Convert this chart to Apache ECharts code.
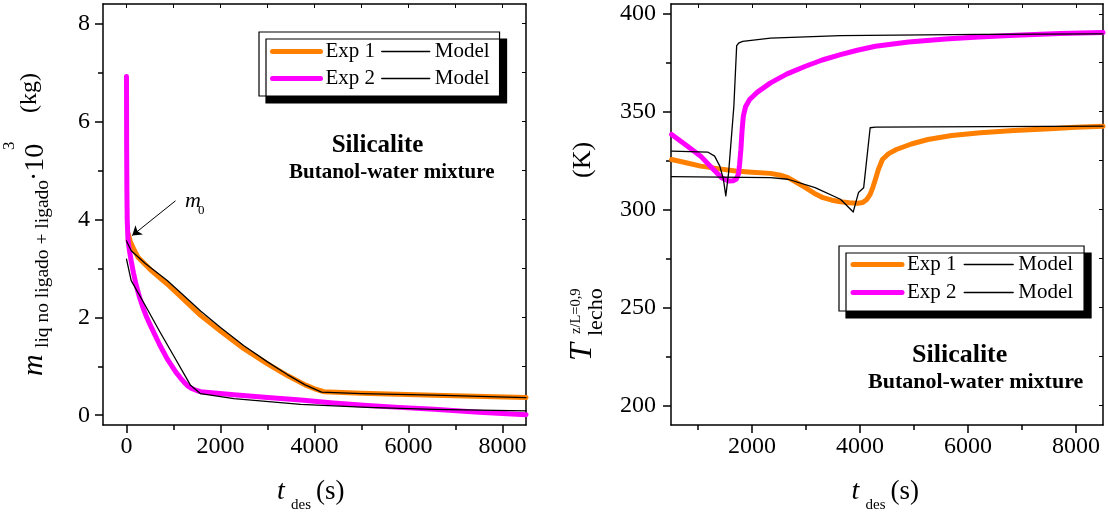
<!DOCTYPE html>
<html><head><meta charset="utf-8">
<script src="https://cdn.jsdelivr.net/npm/echarts@6/dist/echarts.min.js"></script>
<style>html,body{margin:0;padding:0;background:#fff}#c{width:1108px;height:515px}</style>
</head><body><div id="c"></div>
<script>
const SERIF = '"Liberation Serif","Times New Roman",serif';
const ORANGE = '#FF8000';
const MAGENTA = '#FF00FF';

// ---------- tick labels / ranges ----------
const massXRange = [-500, 8500];
const massYRange = [-0.2, 8.4];
const massXMajor = [0, 2000, 4000, 6000, 8000];
const massXMinor = [1000, 3000, 5000, 7000];
const massYMajor = [0, 2, 4, 6, 8];
const massYMinor = [1, 3, 5, 7];

const tempXRange = [500, 8500];
const tempYRange = [190, 405];
const tempXMajor = [2000, 4000, 6000, 8000];
const tempXMinor = [1000, 3000, 5000, 7000];
const tempYMajor = [200, 250, 300, 350, 400];
const tempYMinor = [225, 275, 325, 375];

const legendNames = ['Exp 1', 'Model 1', 'Exp 2', 'Model 2'];

// ---------- left: liquid mass (kg·10^3) vs t_des (s) ----------
const massExp1 = [[40,3.70],[80,3.55],[150,3.40],[250,3.22],[500,2.98],[866,2.68],[1200,2.38],[1576,2.04],[2000,1.72],[2498,1.36],[3000,1.05],[3422,0.81],[3800,0.62],[4000,0.54],[4095,0.51],[4200,0.48],[5000,0.45],[6544,0.41],[8500,0.36]];
const massModel1 = [[0,3.56],[100,3.36],[400,3.10],[866,2.75],[1200,2.46],[1576,2.13],[2000,1.79],[2498,1.42],[3000,1.09],[3422,0.83],[3800,0.62],[4150,0.47],[5000,0.44],[6544,0.41],[8500,0.36]];
const massExp2 = [[0,6.92],[3,5.5],[8,4.6],[15,4.0],[30,3.6],[60,3.38],[100,3.15],[150,2.9],[200,2.68],[280,2.4],[350,2.2],[430,2.0],[511,1.83],[600,1.65],[700,1.45],[800,1.27],[866,1.15],[950,1.03],[1050,0.88],[1150,0.76],[1221,0.68],[1300,0.60],[1400,0.54],[1505,0.50],[1576,0.48],[2285,0.42],[3000,0.36],[3705,0.31],[4400,0.25],[5126,0.20],[5800,0.16],[6544,0.12],[7500,0.06],[8500,0.01]];
const massModel2 = [[0,3.19],[100,2.75],[400,2.24],[700,1.72],[1000,1.22],[1363,0.61],[1576,0.44],[2285,0.34],[3705,0.22],[5126,0.16],[6544,0.12],[8500,0.09]];
const m0ArrowFrom = [1043, 4.38];
const m0ArrowTo = [121, 3.67];

// ---------- right: bed temperature (K) vs t_des (s) ----------
const tempExp1 = [[511,325.6],[800,323.8],[1050,322.2],[1400,320.8],[1696,319.7],[2000,319.1],[2343,318.5],[2550,317.4],[2666,316.3],[2830,313.8],[2990,311.2],[3150,308.4],[3315,306.1],[3480,304.8],[3638,304.0],[3800,303.5],[3961,303.2],[4050,303.6],[4120,305.0],[4188,307.8],[4240,311.5],[4286,315.5],[4340,320.5],[4415,325.6],[4530,328.6],[4674,330.7],[4950,333.5],[5257,335.8],[5700,337.8],[6229,339.2],[6850,340.4],[7523,341.3],[8000,342.0],[8500,342.6]];
const tempModel1 = [[511,316.8],[2343,316.3],[2666,315.5],[3168,311.2],[3638,305.3],[3875,298.8],[3972,308.7],[4068,311.2],[4188,341.8],[4286,342.1],[8500,342.6]];
const tempExp2 = [[511,338.4],[800,332.5],[1050,327.3],[1250,321.5],[1437,316.3],[1567,314.6],[1650,314.7],[1710,315.6],[1748,318.0],[1770,323.0],[1794,330.7],[1815,340.0],[1839,347.7],[1880,352.5],[1956,356.2],[2100,360.0],[2343,364.7],[2650,369.3],[2990,373.2],[3300,376.4],[3638,379.1],[3950,381.4],[4286,383.4],[4900,385.6],[5581,387.1],[6200,388.2],[6875,389.0],[7700,389.9],[8500,390.5]];
const tempModel2 = [[511,329.9],[1179,329.4],[1308,327.3],[1404,322.2],[1470,315.5],[1515,307.0],[1567,318.9],[1664,352.8],[1716,383.7],[1760,385.2],[1827,385.9],[2343,387.6],[3638,388.8],[6229,389.5],[8500,389.7]];

// ---------- helpers ----------
function axesFor(dim, gridIndex, range, major, minor, labelMargin) {
  const isX = dim === 'x';
  const lineStyle = { color: '#000', width: 1.5 };
  const base = { type: 'value', gridIndex, min: range[0], max: range[1], splitLine: { show: false }, scale: false };
  return [
    Object.assign({}, base, {
      position: isX ? 'bottom' : 'left',
      axisLine: { show: true, onZero: false, lineStyle },
      axisTick: { show: true, inside: false, length: 8, customValues: major, lineStyle },
      axisLabel: { show: true, customValues: major, margin: labelMargin, color: '#000', fontFamily: SERIF, fontSize: 24,
        formatter: v => String(v) }
    }),
    Object.assign({}, base, {
      position: isX ? 'bottom' : 'left',
      axisLine: { show: false, onZero: false },
      axisTick: { show: true, inside: false, length: 5, customValues: minor, lineStyle },
      axisLabel: { show: false }
    }),
    Object.assign({}, base, {
      position: isX ? 'top' : 'right',
      axisLine: { show: true, onZero: false, lineStyle },
      axisTick: { show: true, inside: true, length: 4, customValues: major.concat(minor), lineStyle: { color: '#000', width: 1 } },
      axisLabel: { show: false }
    })
  ];
}

function line(name, data, xi, yi, color, width, z, extra) {
  return Object.assign({
    type: 'line', name, data, xAxisIndex: xi, yAxisIndex: yi,
    symbol: 'none', showSymbol: false, smooth: false, z,
    lineStyle: { color, width, cap: 'round', join: 'round' },
    itemStyle: { color },
    emphasis: { disabled: true }, silent: true
  }, extra || {});
}

function legendItem(name, color, width) {
  return { name, lineStyle: { width, color }, itemStyle: { opacity: 0, color: 'rgba(0,0,0,0)', borderWidth: 0 } };
}

function legendCfg(left, top, padding, itemWidth, itemGap) {
  return {
    left, top, orient: 'horizontal', width: 240, padding,
    itemWidth, itemHeight: 14, itemGap, selectedMode: false,
    backgroundColor: '#fff', borderColor: '#000', borderWidth: 1.2,
    shadowColor: '#000', shadowBlur: 0, shadowOffsetX: 7, shadowOffsetY: 7,
    textStyle: { fontFamily: SERIF, fontSize: 21, color: '#000', lineHeight: 21 },
    formatter: n => n.indexOf('Model') === 0 ? 'Model' : n,
    data: [
      legendItem(legendNames[0], ORANGE, 5),
      legendItem(legendNames[1], '#000', 1.3),
      legendItem(legendNames[2], MAGENTA, 5),
      legendItem(legendNames[3], '#000', 1.3)
    ]
  };
}

function txt(str, x, baseline, size, style) {
  const f = (style || '') + ' ' + size + 'px ' + SERIF;
  return { type: 'text', x, y: baseline - 0.31 * size, z: 100, silent: true,
    style: { text: str, font: f.trim(), fill: '#000', align: 'left', verticalAlign: 'middle', textAlign: 'left', textVerticalAlign: 'middle' } };
}
function rtxt(str, cx, yStart, size, style) {
  const f = (style || '') + ' ' + size + 'px ' + SERIF;
  return { type: 'text', x: cx, y: yStart, rotation: Math.PI / 2, z: 100, silent: true,
    style: { text: str, font: f.trim(), fill: '#000', align: 'left', verticalAlign: 'middle', textAlign: 'left', textVerticalAlign: 'middle' } };
}

const chart = echarts.init(document.getElementById('c'), null, { renderer: 'canvas', width: 1108, height: 515 });

const option = {
  animation: false,
  backgroundColor: '#fff',
  grid: [
    { left: 103, top: 4, width: 423, height: 421, containLabel: false },
    { left: 671, top: 4, width: 432, height: 421, containLabel: false }
  ],
  xAxis: [].concat(
    axesFor('x', 0, massXRange, massXMajor, massXMinor, 10),
    axesFor('x', 1, tempXRange, tempXMajor, tempXMinor, 10)
  ),
  yAxis: [].concat(
    axesFor('y', 0, massYRange, massYMajor, massYMinor, 13),
    axesFor('y', 1, tempYRange, tempYMajor, tempYMinor, 15)
  ),
  legend: [
    legendCfg(259, 32, [9, 10, 7, 11], 48, 6),
    legendCfg(839, 246, [8, 11, 8, 11.5], 49, 7)
  ],
  series: [
    line(legendNames[0], massExp1, 0, 0, ORANGE, 5, 2),
    line(legendNames[2], massExp2, 0, 0, MAGENTA, 5, 2),
    line(legendNames[1], massModel1, 0, 0, '#000', 1.3, 3, {
      markLine: {
        silent: true, animation: false, symbol: ['none', 'arrow'], symbolSize: 9,
        lineStyle: { color: '#000', width: 1, type: 'solid' }, label: { show: false },
        emphasis: { disabled: true },
        data: [[{ coord: m0ArrowFrom }, { coord: m0ArrowTo }]]
      }
    }),
    line(legendNames[3], massModel2, 0, 0, '#000', 1.3, 3),
    line(legendNames[0], tempExp1, 3, 3, ORANGE, 5, 2),
    line(legendNames[2], tempExp2, 3, 3, MAGENTA, 5, 2),
    line(legendNames[1], tempModel1, 3, 3, '#000', 1.3, 3),
    line(legendNames[3], tempModel2, 3, 3, '#000', 1.3, 3)
  ],
  graphic: [
    // left plot annotations
    txt('Silicalite', 331.7, 153, 25, 'bold'),
    txt('Butanol-water mixture', 289, 179.5, 21, 'bold'),
    txt('m', 185, 208, 22, 'italic'),
    txt('0', 198, 215, 13),
    // right plot annotations
    txt('Silicalite', 912, 363, 26, 'bold'),
    txt('Butanol-water mixture', 868, 389, 22, 'bold'),
    // x axis titles
    txt('t', 277, 500, 28, 'italic'),
    txt('des', 291, 510, 15),
    txt('(s)', 316, 500, 27),
    txt('t', 851.5, 500, 28, 'italic'),
    txt('des', 865.5, 510, 15),
    txt('(s)', 890.5, 500, 27),
    // left y title
    rtxt('m', 34.5, 376, 30, 'italic'),
    rtxt('liq no ligado + ligado', 42.5, 348, 19.5),
    rtxt('\u00b710', 35.5, 181, 28),
    rtxt('3', 9.7, 150, 17),
    rtxt('(kg)', 30, 113, 24),
    // right y title
    rtxt('T', 583, 361, 32, 'italic'),
    rtxt('z/L=0,9', 575.7, 334, 14.5),
    rtxt('lecho', 596.5, 336, 22),
    rtxt('(K)', 583, 178, 26)
  ]
};
chart.setOption(option);
</script>
</body></html>
